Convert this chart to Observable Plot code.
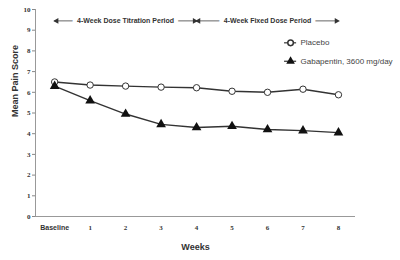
<!DOCTYPE html>
<html>
<head>
<meta charset="utf-8">
<script src="https://cdn.jsdelivr.net/npm/d3@7"></script>
<script src="https://cdn.jsdelivr.net/npm/@observablehq/plot@0.6"></script>
<style>
  body { margin: 0; background: #fff; }
  svg { overflow: visible; }
</style>
</head>
<body>
<div id="chart"></div>
<script>
// Weekly mean pain scores, baseline through week 8
const weeks = [0, 1, 2, 3, 4, 5, 6, 7, 8];
const weekLabels = ["Baseline", "1", "2", "3", "4", "5", "6", "7", "8"];
const placebo = [6.5, 6.35, 6.3, 6.25, 6.22, 6.05, 6.0, 6.15, 5.88];
const gabapentin = [6.3, 5.6, 4.95, 4.45, 4.3, 4.36, 4.2, 4.15, 4.05];
const seriesNames = ["Placebo", "Gabapentin, 3600 mg/day"];
const yTicks = [0, 1, 2, 3, 4, 5, 6, 7, 8, 9, 10];

// Study periods shown as arrows across the top
const periodLabels = ["4-Week Dose Titration Period", "4-Week Fixed Dose Period"];
const periodStarts = [0, 4];
const periodEnds = [4, 8];

const xDomain = [-0.54, 8.48];
const periodY = 9.45;

const rows = weeks.flatMap((w, i) => [
  {week: w, score: placebo[i], group: seriesNames[0]},
  {week: w, score: gabapentin[i], group: seriesNames[1]}
]);
const placeboRows = rows.filter(d => d.group === seriesNames[0]);
const gabaRows = rows.filter(d => d.group === seriesNames[1]);
const periods = periodLabels.map((label, i) => ({label, start: periodStarts[i], end: periodEnds[i]}));

// Legend entries placed in the upper right of the plot area
const legend = [
  {label: seriesNames[0], y: 8.39, x1: 6.48, x2: 6.82, xt: 6.93},
  {label: seriesNames[1], y: 7.5, x1: 6.48, x2: 6.82, xt: 6.93}
];

const ink = "#333";
const sans = "'Liberation Sans', Arial, sans-serif";
const serif = "'Liberation Serif', 'Times New Roman', serif";

const chart = Plot.plot({
  width: 400,
  height: 260,
  marginLeft: 35,
  marginRight: 45,
  marginTop: 9,
  marginBottom: 44,
  style: {fontFamily: sans, color: ink, background: "white"},
  x: {domain: xDomain},
  y: {domain: [0, 10]},
  marks: [
    // axes
    Plot.ruleX([xDomain[0]], {stroke: "#999", strokeWidth: 1}),
    Plot.ruleY([0], {stroke: "#999", strokeWidth: 1}),
    Plot.axisY({ticks: yTicks, tickSize: 3, tickPadding: 2, stroke: "#888",
      fontFamily: serif, fontWeight: "bold", fontSize: 7, label: null}),
    Plot.axisX({ticks: weeks.slice(0, 1), tickSize: 0, tickPadding: 9,
      tickFormat: i => weekLabels[i], fontFamily: sans, fontWeight: "bold", fontSize: 7, label: null}),
    Plot.axisX({ticks: weeks.slice(1), tickSize: 0, tickPadding: 9,
      tickFormat: i => weekLabels[i], fontFamily: serif, fontWeight: "bold", fontSize: 7, label: null}),
    Plot.text(["Mean Pain Score"], {frameAnchor: "left", rotate: -90, dx: -20, dy: 4,
      fontWeight: "bold", fontSize: 9, fill: ink}),
    Plot.text(["Weeks"], {frameAnchor: "bottom", lineAnchor: "middle", dy: 31,
      fontWeight: "bold", fontSize: 9, fill: ink}),

    // period arrows
    Plot.ruleY(periods, {y: periodY, x1: "start", x2: "end", stroke: "#555", strokeWidth: 0.9}),
    Plot.dot(periods, {x: "start", y: periodY, symbol: "triangle", rotate: -90, r: 2.2, dx: 2, fill: ink}),
    Plot.dot(periods, {x: "end", y: periodY, symbol: "triangle", rotate: 90, r: 2.2, dx: -2, fill: ink}),
    Plot.text(periods, {x: d => (d.start + d.end) / 2, y: periodY, text: "label",
      fill: ink, stroke: "white", strokeWidth: 9, fontWeight: "bold", fontSize: 7}),

    // series
    Plot.line(rows, {x: "week", y: "score", z: "group", stroke: ink, strokeWidth: 1.4}),
    Plot.dot(placeboRows, {x: "week", y: "score", symbol: "circle", r: 3.2, fill: "white", stroke: ink, strokeWidth: 1}),
    Plot.dot(gabaRows, {x: "week", y: "score", symbol: "triangle", r: 3.6, fill: "#111"}),

    // legend
    Plot.ruleY(legend, {y: "y", x1: "x1", x2: "x2", stroke: ink, strokeWidth: 1.2}),
    Plot.dot(legend.slice(0, 1), {x: d => (d.x1 + d.x2) / 2, y: "y", symbol: "circle", r: 2.8, fill: "white", stroke: ink}),
    Plot.dot(legend.slice(1), {x: d => (d.x1 + d.x2) / 2, y: "y", symbol: "triangle", r: 3.2, fill: "#111"}),
    Plot.text(legend, {x: "xt", y: "y", text: "label", textAnchor: "start", fontSize: 8, fill: "#444"})
  ]
});

document.getElementById("chart").append(chart);
</script>
</body>
</html>
